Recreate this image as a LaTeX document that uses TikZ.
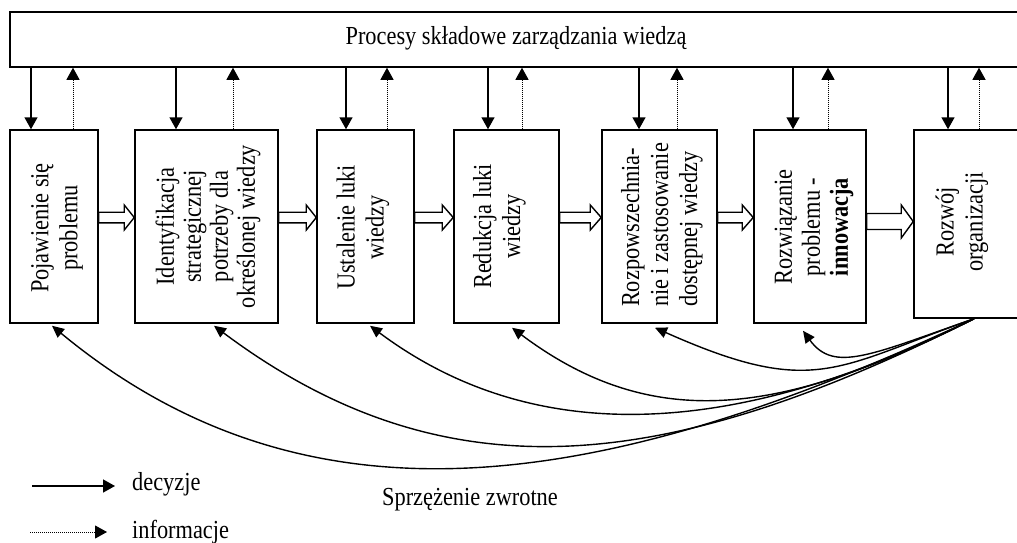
\documentclass[tikz,border=0pt]{standalone}
\usepackage{fontspec}
\setmainfont[FakeStretch=0.86]{Liberation Serif}
\usetikzlibrary{arrows.meta,calc}

% hollow block arrow between two stage boxes: #1 from, #2 to, #3 centre y,
% #4 half shaft, #5 half head, #6 head length
\newcommand\hollowarrow[6]{%
  \draw[hollow] let \p1=(#1.east |- 0,#3), \p2=(#2.west |- 0,#3) in
    (\x1,\y1+#4pt) -- (\x2-#6pt,\y1+#4pt) -- (\x2-#6pt,\y1+#5pt) -- (\x2,\y1)
    -- (\x2-#6pt,\y1-#5pt) -- (\x2-#6pt,\y1-#4pt) -- (\x1,\y1-#4pt) -- cycle;}

\tikzset{
  stagebox/.style={draw, line width=1.5pt, rectangle, inner sep=0pt},
  vlabel/.style={rotate=90, align=center, inner sep=0pt,
    font=\fontsize{26}{29}\selectfont},
  plain/.style={font=\fontsize{26}{29}\selectfont, inner sep=0pt},
  tipA/.style={-{Triangle[length=12pt,width=13pt]}},
  decision/.style={tipA, line width=1.5pt},
  info/.style={tipA, line width=1pt, densely dotted},
  feedback/.style={-{Triangle[length=12pt,width=11pt]}, line width=1.4pt},
  hollow/.style={draw, line width=1.4pt, fill=white, line join=miter},
}

\begin{document}
\begin{tikzpicture}[x=1pt,y=-1pt]
\useasboundingbox (0,0) rectangle (1017,543);
\clip (0,0) rectangle (1017,543);
\fill[white] (0,0) rectangle (1017,543);

% knowledge-management processes
\node[stagebox, minimum width=1030pt, minimum height=55pt] (top) at (525,39.5) {};
\node[plain] (toptxt) at (516,38) {Procesy składowe zarządzania wiedzą};

% stage boxes
\node[stagebox, minimum width=88pt,  minimum height=193pt] (b1) at (54,226.5) {};
\node[stagebox, minimum width=143pt, minimum height=193pt] (b2) at (206.5,226.5) {};
\node[stagebox, minimum width=97pt,  minimum height=193pt] (b3) at (365.5,226.5) {};
\node[stagebox, minimum width=105pt, minimum height=193pt] (b4) at (506.5,226.5) {};
\node[stagebox, minimum width=115pt, minimum height=193pt] (b5) at (659.5,226.5) {};
\node[stagebox, minimum width=112pt, minimum height=193pt] (b6) at (810,226.5) {};
\node[stagebox, minimum width=126pt, minimum height=188pt] (b7) at (977,224) {};

% stage texts
\node[vlabel] (t1) at (57,228) {Pojawienie się\\problemu};
\node[vlabel, font=\fontsize{26}{27}\selectfont] (t2) at (208,226.5) {Identyfikacja\\strategicznej\\potrzeby dla\\określonej wiedzy};
\node[vlabel] (t3) at (363,227.5) {Ustalenie luki\\wiedzy};
\node[vlabel] (t4) at (499.5,226.5) {Redukcja luki\\wiedzy};
\node[vlabel, align=left] (t5) at (662,225) {Rozpowszechnia-\\nie i zastosowanie\\dostępnej wiedzy};
\node[vlabel, font=\fontsize{26}{28}\selectfont] (t6) at (814,227) {Rozwiązanie\\problemu -\\\textbf{innowacja}};
\node[vlabel] (t7) at (962,222) {Rozwój\\organizacji};

% decisions (down) and information (up)
\foreach \b/\d/\i in {b1/31/73, b2/176/233, b3/346/387, b4/488/522,
                      b5/639/677, b6/793/828, b7/948/979}{
  \draw[decision] (\d,0 |- top.south) -- (\d,0 |- \b.north);
  \draw[info] (\i,0 |- \b.north) -- (\i,0 |- top.south);
}

% flow between the stages
\hollowarrow{b1}{b2}{217.5}{5.3}{12.5}{10}
\hollowarrow{b2}{b3}{217.5}{5.3}{12.5}{10}
\hollowarrow{b3}{b4}{217.5}{5.3}{12.5}{11}
\hollowarrow{b4}{b5}{217.5}{5.3}{12.5}{11}
\hollowarrow{b5}{b6}{217.5}{5.3}{12.5}{11}
\hollowarrow{b6}{b7}{221.5}{8}{16.5}{12}

% feedback loops
\coordinate (fb) at ([xshift=-3pt]b7.south);
\draw[feedback] (fb) .. controls (607,490) and (311,540) .. ([xshift=-2pt,yshift=-2pt]b1.south);
\draw[feedback] (fb) .. controls (674,469) and (451,503) .. ([xshift=7.5pt,yshift=-2pt]b2.south);
\draw[feedback] (fb) .. controls (741,436) and (538,451) .. ([xshift=4.5pt,yshift=-2pt]b3.south);
\draw[feedback] (fb) .. controls (784,414) and (655,435) .. ([xshift=5.5pt,yshift=-4pt]b4.south);
\draw[feedback] (fb) .. controls (836,367) and (815,399) .. ([xshift=-4.5pt,yshift=-4pt]b5.south);
\draw[feedback] (fb) .. controls (870,355) and (834,373) .. ([xshift=-7pt,yshift=-7pt]b6.south);

% legend
\coordinate (la1) at (32,486);
\coordinate (la2) at (115,486);
\coordinate (lb1) at (30,532);
\coordinate (lb2) at (107,532);
\draw[decision] (la1) -- (la2);
\draw[info] (lb1) -- (lb2);
\node[plain, anchor=west] (ld) at (132,484) {decyzje};
\node[plain, anchor=west] (li) at (132,532) {informacje};
\node[plain] (fbtxt) at (470,500) {Sprzężenie zwrotne};
\end{tikzpicture}
\end{document}
